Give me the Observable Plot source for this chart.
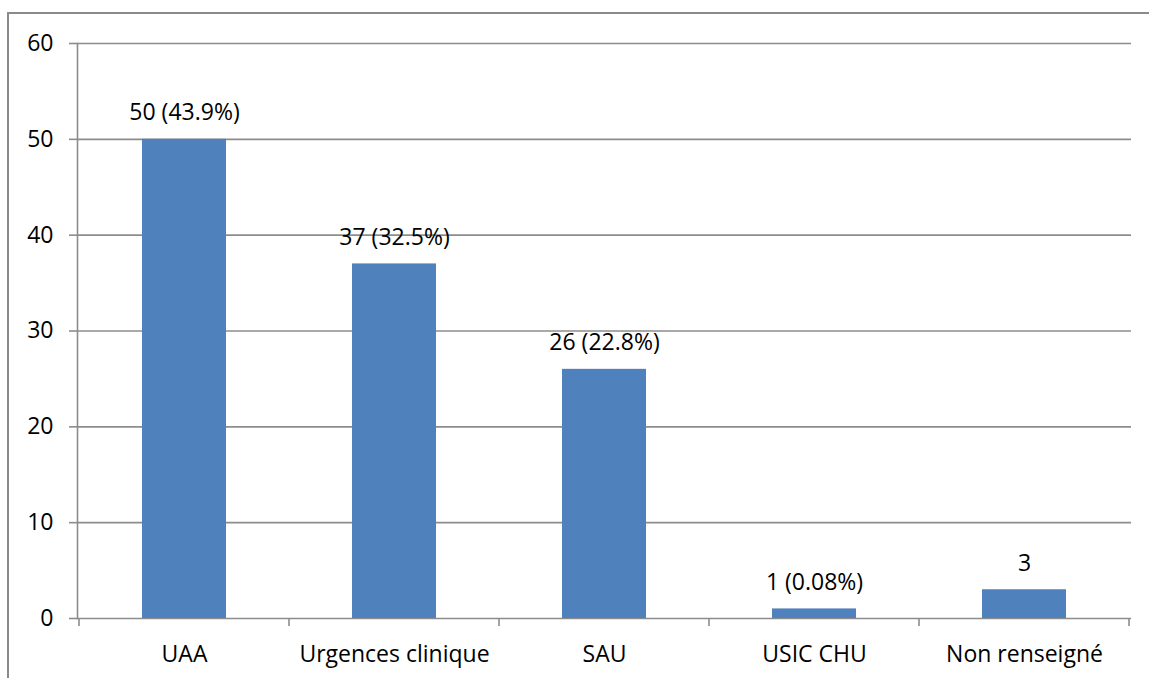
<!DOCTYPE html>
<html>
<head>
<meta charset="utf-8">
<script src="https://cdn.jsdelivr.net/npm/d3@7"></script>
<script src="https://cdn.jsdelivr.net/npm/@observablehq/plot@0.6"></script>
<style>
  html, body { margin: 0; padding: 0; background: #fff; }
  #wrap { position: relative; width: 1149px; height: 678px; overflow: hidden; }
  #border { position: absolute; left: 7px; top: 12px; width: 1160px; height: 700px;
            border-top: 2px solid #8a8a8a; border-left: 2px solid #8a8a8a; pointer-events: none; }
</style>
</head>
<body>
<div id="wrap"><div id="border"></div></div>
<script>
const categories = ["UAA", "Urgences clinique", "SAU", "USIC CHU", "Non renseigné"];
const values = [50, 37, 26, 1, 3];
const valueLabels = ["50 (43.9%)", "37 (32.5%)", "26 (22.8%)", "1 (0.08%)", "3"];
const yTicks = [0, 10, 20, 30, 40, 50, 60];

const data = categories.map((c, i) => ({category: c, value: values[i], label: valueLabels[i]}));

const gridColor = "#8c8c8c";
const fs = 23;

const plot = Plot.plot({
  width: 1149,
  height: 678,
  marginLeft: 77,
  marginRight: 18,
  marginTop: 43,
  marginBottom: 60,
  style: {fontFamily: "'Open Sans', sans-serif", fontSize: fs + "px", color: "#000", background: "transparent"},
  x: {domain: categories, paddingInner: 0.6, paddingOuter: 0.3, label: null},
  y: {domain: [0, 60], label: null},
  marks: [
    Plot.ruleY(yTicks, {stroke: gridColor, strokeWidth: 1.6}),
    Plot.frame({anchor: "left", stroke: gridColor, strokeWidth: 1.6}),
    Plot.axisY({ticks: yTicks, tickSize: 8, tickPadding: 16, stroke: gridColor, strokeWidth: 1.6, fill: "#000", fontSize: fs, label: null, tickFormat: d => String(d)}),
    Plot.axisX({tickSize: 0, tickPadding: 27, fill: "#000", fontSize: fs, label: null}),
    Plot.barY(data, {x: "category", y: "value", fill: "#4F81BD"}),
    Plot.text(data, {x: "category", y: "value", text: "label", lineAnchor: "bottom", dy: -19, fill: "#000", fontSize: fs})
  ]
});

// category boundary tick marks along the x axis, from the library's scales
const xs = plot.scale("x");
const ys = plot.scale("y");
const gap = (xs.step - xs.bandwidth) / 2;
const bounds = categories.map(c => xs.apply(c) - gap);
bounds.push(xs.apply(categories[categories.length - 1]) + xs.bandwidth + gap);
const y0 = ys.apply(0);
d3.select(plot).append("g")
  .attr("stroke", gridColor).attr("stroke-width", 1.6)
  .selectAll("line").data(bounds).join("line")
  .attr("x1", d => d).attr("x2", d => d)
  .attr("y1", y0).attr("y2", y0 + 8);

document.getElementById("wrap").prepend(plot);
</script>
</body>
</html>
